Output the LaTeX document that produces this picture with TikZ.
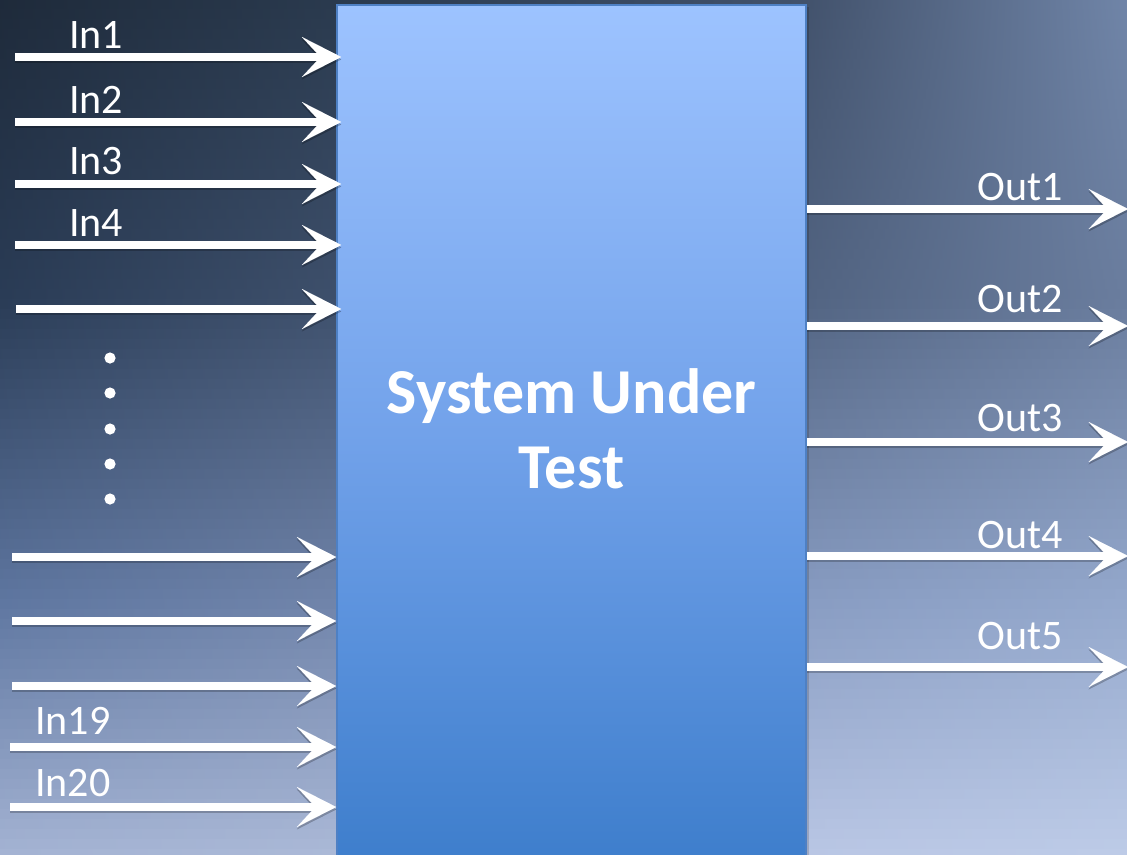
\documentclass[tikz,border=0pt]{standalone}
\usepackage{fontspec}
\setmainfont{Carlito}
\usetikzlibrary{arrows.meta}

% background colour stops: four columns (x = 0, 337, 806, 1127),
% each with stops at v = 0, 0.35, 0.7, 1 (v measured from the top)
\definecolor{A0}{RGB}{30,42,58}
\definecolor{A1}{RGB}{42,60,86}
\definecolor{A2}{RGB}{94,118,160}
\definecolor{A3}{RGB}{165,180,212}
\definecolor{B0}{RGB}{42,58,78}
\definecolor{B1}{RGB}{62,80,108}
\definecolor{B2}{RGB}{112,132,170}
\definecolor{B3}{RGB}{172,186,216}
\definecolor{C0}{RGB}{66,82,108}
\definecolor{C1}{RGB}{82,100,130}
\definecolor{C2}{RGB}{136,156,194}
\definecolor{C3}{RGB}{186,199,229}
\definecolor{D0}{RGB}{112,133,168}
\definecolor{D1}{RGB}{106,125,158}
\definecolor{D2}{RGB}{148,168,204}
\definecolor{D3}{RGB}{190,204,232}

\definecolor{boxtop}{RGB}{157,195,255}
\definecolor{boxmid}{RGB}{114,162,234}
\definecolor{boxbot}{RGB}{62,126,204}
\definecolor{boxline}{RGB}{78,128,196}

% piecewise colour along one column: name, v, four stops
\newcommand\bgmix[6]{%
  \ifdim#2pt<0.35pt
    \pgfmathsetmacro\bgt{100*#2/0.35}\colorlet{#1}{#4!\bgt!#3}%
  \else\ifdim#2pt<0.7pt
    \pgfmathsetmacro\bgt{100*(#2-0.35)/0.35}\colorlet{#1}{#5!\bgt!#4}%
  \else
    \pgfmathsetmacro\bgt{100*(#2-0.7)/0.3}\colorlet{#1}{#6!\bgt!#5}%
  \fi\fi}

\tikzset{
  bigtip/.tip={Stealth[length=29.5pt, width=30pt, inset=14pt, line width=0.01pt]},
  arr/.style={draw=white, line width=6pt, -bigtip},
  arrshadow/.style={draw=black, opacity=0.22, line width=6pt, -bigtip,
    transform canvas={yshift=-1.8pt}},
  lbl/.style={text=white, font=\fontsize{31.5}{38}\selectfont, inner sep=0pt, anchor=base west},
  dotmark/.style={circle, fill=white, inner sep=0pt, minimum size=8.4pt},
  sutbox/.style={draw=boxline, line width=1.2pt, top color=boxtop, bottom color=boxbot,
    middle color=boxmid, minimum width=351.75pt, minimum height=641.25pt, inner sep=0pt},
  suttext/.style={text=white, font=\bfseries\fontsize{48}{56.25}\selectfont, align=center}
}

\begin{document}
\begin{tikzpicture}[x=0.75pt, y=-0.75pt]
\useasboundingbox (0,0) rectangle (1127,854);

% background: horizontal strips, each shaded across four columns
\foreach \i in {0,...,85} {
  \pgfmathsetmacro\bgv{(\i+0.5)/86}
  \bgmix{cA}{\bgv}{A0}{A1}{A2}{A3}
  \bgmix{cB}{\bgv}{B0}{B1}{B2}{B3}
  \bgmix{cC}{\bgv}{C0}{C1}{C2}{C3}
  \bgmix{cD}{\bgv}{D0}{D1}{D2}{D3}
  \shade[left color=cA, right color=cB] (-1,\i*10-0.6) rectangle (337.5,\i*10+10.6);
  \shade[left color=cB, right color=cC] (337,\i*10-0.6) rectangle (806.5,\i*10+10.6);
  \shade[left color=cC, right color=cD] (806,\i*10-0.6) rectangle (1128,\i*10+10.6);
}

% system block
\fill[black, opacity=0.15] (339,7) rectangle (809,860);
\node[sutbox] (sut) at (571.5,432.5) {};
\node[suttext, yshift=2.6pt] (sutlabel) at (sut.center) {System Under\\Test};

% input start points
\coordinate (in1) at (15,57);
\coordinate (in2) at (15,122);
\coordinate (in3) at (15,184);
\coordinate (in4) at (15,245);
\coordinate (in5) at (16,309);
\coordinate (in16) at (12,557);
\coordinate (in17) at (12,621);
\coordinate (in18) at (12,686);
\coordinate (in19) at (10,747);
\coordinate (in20) at (10,807);

% output end points
\coordinate (out1) at (1128,209);
\coordinate (out2) at (1128,326);
\coordinate (out3) at (1128,442);
\coordinate (out4) at (1128,556);
\coordinate (out5) at (1128,667);

% shadows under the arrows
\foreach \c in {in1,in2,in3,in4,in5}
  \draw[arrshadow, shorten >=-3.75pt] (\c) -- (\c -| sut.west);
\foreach \c in {in16,in17,in18,in19,in20}
  \draw[arrshadow] (\c) -- (\c -| sut.west);
\foreach \c in {out1,out2,out3,out4,out5}
  \draw[arrshadow] (\c -| sut.east) -- (\c);

% input arrows
\foreach \c in {in1,in2,in3,in4,in5}
  \draw[arr, shorten >=-3.75pt] (\c) -- (\c -| sut.west);
\foreach \c in {in16,in17,in18,in19,in20}
  \draw[arr] (\c) -- (\c -| sut.west);

% output arrows
\foreach \c in {out1,out2,out3,out4,out5}
  \draw[arr] (\c -| sut.east) -- (\c);

% input labels
\node[lbl] (lin1) at (69,48) {In1};
\node[lbl] (lin2) at (69,113) {In2};
\node[lbl] (lin3) at (69,174) {In3};
\node[lbl] (lin4) at (69,236) {In4};
\node[lbl] (lin19) at (35,734) {In19};
\node[lbl] (lin20) at (35,796) {In20};

% output labels
\node[lbl] (lout1) at (977,200) {Out1};
\node[lbl] (lout2) at (977,312) {Out2};
\node[lbl] (lout3) at (977,431) {Out3};
\node[lbl] (lout4) at (977,548) {Out4};
\node[lbl] (lout5) at (977,649) {Out5};

% elision dots between the inputs
\node[dotmark] (d1) at (110,358) {};
\node[dotmark] (d2) at (110,393) {};
\node[dotmark] (d3) at (110,429) {};
\node[dotmark] (d4) at (110,464) {};
\node[dotmark] (d5) at (110,499) {};
\end{tikzpicture}
\end{document}
